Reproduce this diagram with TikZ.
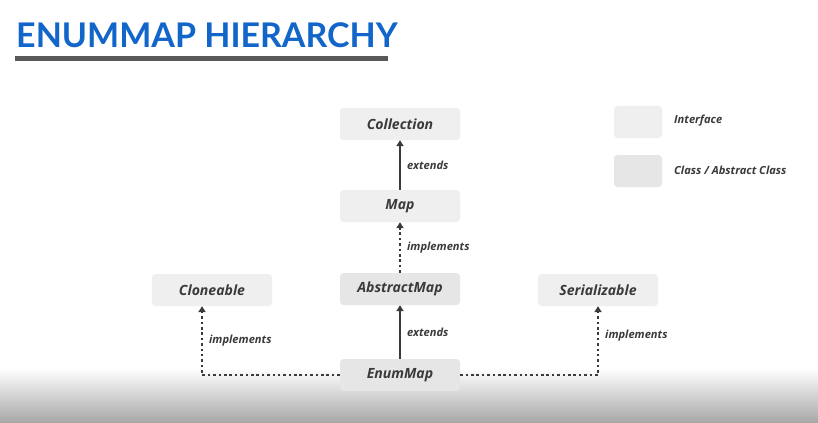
\documentclass[tikz,border=0pt]{standalone}
\usepackage{fontspec}
\setmainfont{Open Sans}
\newfontfamily\titlefont{Lato}
\usetikzlibrary{arrows.meta}
\definecolor{titleblue}{HTML}{1266C9}
\definecolor{rulegrey}{HTML}{595959}
\definecolor{inkgrey}{HTML}{3A3A3A}
\definecolor{ifacefill}{HTML}{EFEFEF}
\definecolor{classfill}{HTML}{E6E6E6}

\begin{document}
\begin{tikzpicture}[x=0.03cm, y=-0.03cm,
	ifacebox/.style={fill=ifacefill, rounded corners=3pt, minimum width=3.6cm, minimum height=0.96cm, font=\bfseries\itshape\fontsize{12}{14}\selectfont, text=inkgrey},
	classbox/.style={ifacebox, fill=classfill},
	swatch/.style={fill=#1, rounded corners=3pt, minimum width=1.44cm, minimum height=0.96cm},
	edgelabel/.style={font=\bfseries\itshape\fontsize{9.5}{11}\selectfont, text=inkgrey, anchor=west},
	extendsline/.style={line width=1.6pt, draw=inkgrey, -{Triangle[length=5pt, width=6pt]}},
	implline/.style={extendsline, dash pattern=on 2.2pt off 2.4pt}]
	%%%%% START %%%%%
	
	\useasboundingbox (0, 0) rectangle (818, 422);
	\fill[white] (0, 0) rectangle (818, 422);
	\shade[top color=white, bottom color=black!34] (0, 368) rectangle (818, 422);
	
	\node[anchor=west, text=titleblue, font=\titlefont\bfseries\fontsize{29}{32}\selectfont, inner sep=0pt] (title) at (16, 35) {ENUMMAP HIERARCHY};
	\fill[rulegrey] (15, 56) rectangle (388, 61);
	
	\node[ifacebox] (collection) at (400, 124) {Collection};
	\node[ifacebox] (map) at (400, 206) {Map};
	\node[classbox] (abstractmap) at (400, 289) {AbstractMap};
	\node[ifacebox] (cloneable) at (212, 290) {Cloneable};
	\node[ifacebox] (serializable) at (598, 290) {Serializable};
	\node[classbox] (enummap) at (400, 375) {EnumMap};
	
	\node[swatch=ifacefill] (ifaceswatch) at (638, 122) {};
	\node[edgelabel] (ifacetext) at (670, 121) {Interface};
	\node[swatch=classfill] (classswatch) at (638, 171) {};
	\node[edgelabel] (classtext) at (670, 170) {Class / Abstract Class};
	
	\draw[extendsline] (map.north) -- (collection.south) node[midway, edgelabel, xshift=2pt] {extends};
	\draw[implline] (abstractmap.north) -- (map.south) node[midway, edgelabel, xshift=2pt] {implements};
	\draw[extendsline] (enummap.north) -- (abstractmap.south) node[midway, edgelabel, xshift=2pt] {extends};
	
	\coordinate (leftbend) at (202, 375);
	\coordinate (rightbend) at (598, 375);
	\draw[implline] (enummap.west) -- (leftbend) -- (leftbend |- cloneable.south) node[pos=0.5, edgelabel, xshift=2pt] {implements};
	\draw[implline] (enummap.east) -- (rightbend) -- (serializable.south) node[pos=0.57, edgelabel, xshift=2pt] {implements};
	
	%%%%% END %%%%%
\end{tikzpicture}
\end{document}
